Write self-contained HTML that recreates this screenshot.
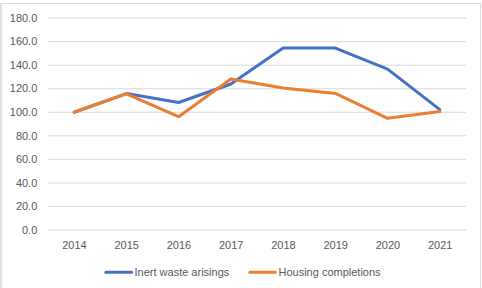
<!DOCTYPE html>
<html><head><meta charset="utf-8">
<style>
html,body{margin:0;padding:0;background:#fff;}
body{width:482px;height:288px;overflow:hidden;position:relative;font-family:"Liberation Sans",sans-serif;}
svg{position:absolute;left:0;top:0;}
text{font-family:"Liberation Sans",sans-serif;font-size:11px;fill:#595959;}
</style></head><body>
<svg width="482" height="288" viewBox="0 0 482 288">
<path d="M1 288 V3.5" fill="none" stroke="#dcdcdc" stroke-width="1.6"/><path d="M0.5 3.5 H480.5" fill="none" stroke="#dcdcdc" stroke-width="1"/><path d="M480.5 3 V288" fill="none" stroke="#dcdcdc" stroke-width="1"/>
<g stroke="#d9d9d9" stroke-width="1">
<line x1="48" x2="466" y1="18.10" y2="18.10"/>
<line x1="48" x2="466" y1="41.64" y2="41.64"/>
<line x1="48" x2="466" y1="65.19" y2="65.19"/>
<line x1="48" x2="466" y1="88.73" y2="88.73"/>
<line x1="48" x2="466" y1="112.28" y2="112.28"/>
<line x1="48" x2="466" y1="135.82" y2="135.82"/>
<line x1="48" x2="466" y1="159.37" y2="159.37"/>
<line x1="48" x2="466" y1="182.91" y2="182.91"/>
<line x1="48" x2="466" y1="206.46" y2="206.46"/>
<line x1="48" x2="466" y1="230.00" y2="230.00"/>
</g>
<g text-anchor="end">
<text x="37.3" y="21.80">180.0</text>
<text x="37.3" y="45.34">160.0</text>
<text x="37.3" y="68.89">140.0</text>
<text x="37.3" y="92.43">120.0</text>
<text x="37.3" y="115.98">100.0</text>
<text x="37.3" y="139.52">80.0</text>
<text x="37.3" y="163.07">60.0</text>
<text x="37.3" y="186.61">40.0</text>
<text x="37.3" y="210.16">20.0</text>
<text x="37.3" y="233.70">0.0</text>
</g>
<g text-anchor="middle">
<text x="74.42" y="249">2014</text>
<text x="126.67" y="249">2015</text>
<text x="178.93" y="249">2016</text>
<text x="231.18" y="249">2017</text>
<text x="283.43" y="249">2018</text>
<text x="335.68" y="249">2019</text>
<text x="387.93" y="249">2020</text>
<text x="440.18" y="249">2021</text>
</g>
<polyline fill="none" stroke="#4472c4" stroke-width="3.0" stroke-linejoin="round" stroke-linecap="round" points="74.12,112.28 126.38,93.60 178.62,102.50 230.88,84.00 283.12,48.10 335.38,48.10 387.62,69.10 439.88,109.60"/>
<polyline fill="none" stroke="#ed7d31" stroke-width="3.0" stroke-linejoin="round" stroke-linecap="round" points="74.12,112.28 126.38,93.80 178.62,116.70 230.88,79.00 283.12,88.00 335.38,93.40 387.62,118.30 439.88,111.60"/>
<line x1="105.9" y1="272.3" x2="131.6" y2="272.3" stroke="#4472c4" stroke-width="3.0" stroke-linecap="round"/>
<text x="134.5" y="276">Inert waste arisings</text>
<line x1="249.9" y1="272.3" x2="275.3" y2="272.3" stroke="#ed7d31" stroke-width="3.0" stroke-linecap="round"/>
<text x="278.5" y="276">Housing completions</text>
</svg>
</body></html>
